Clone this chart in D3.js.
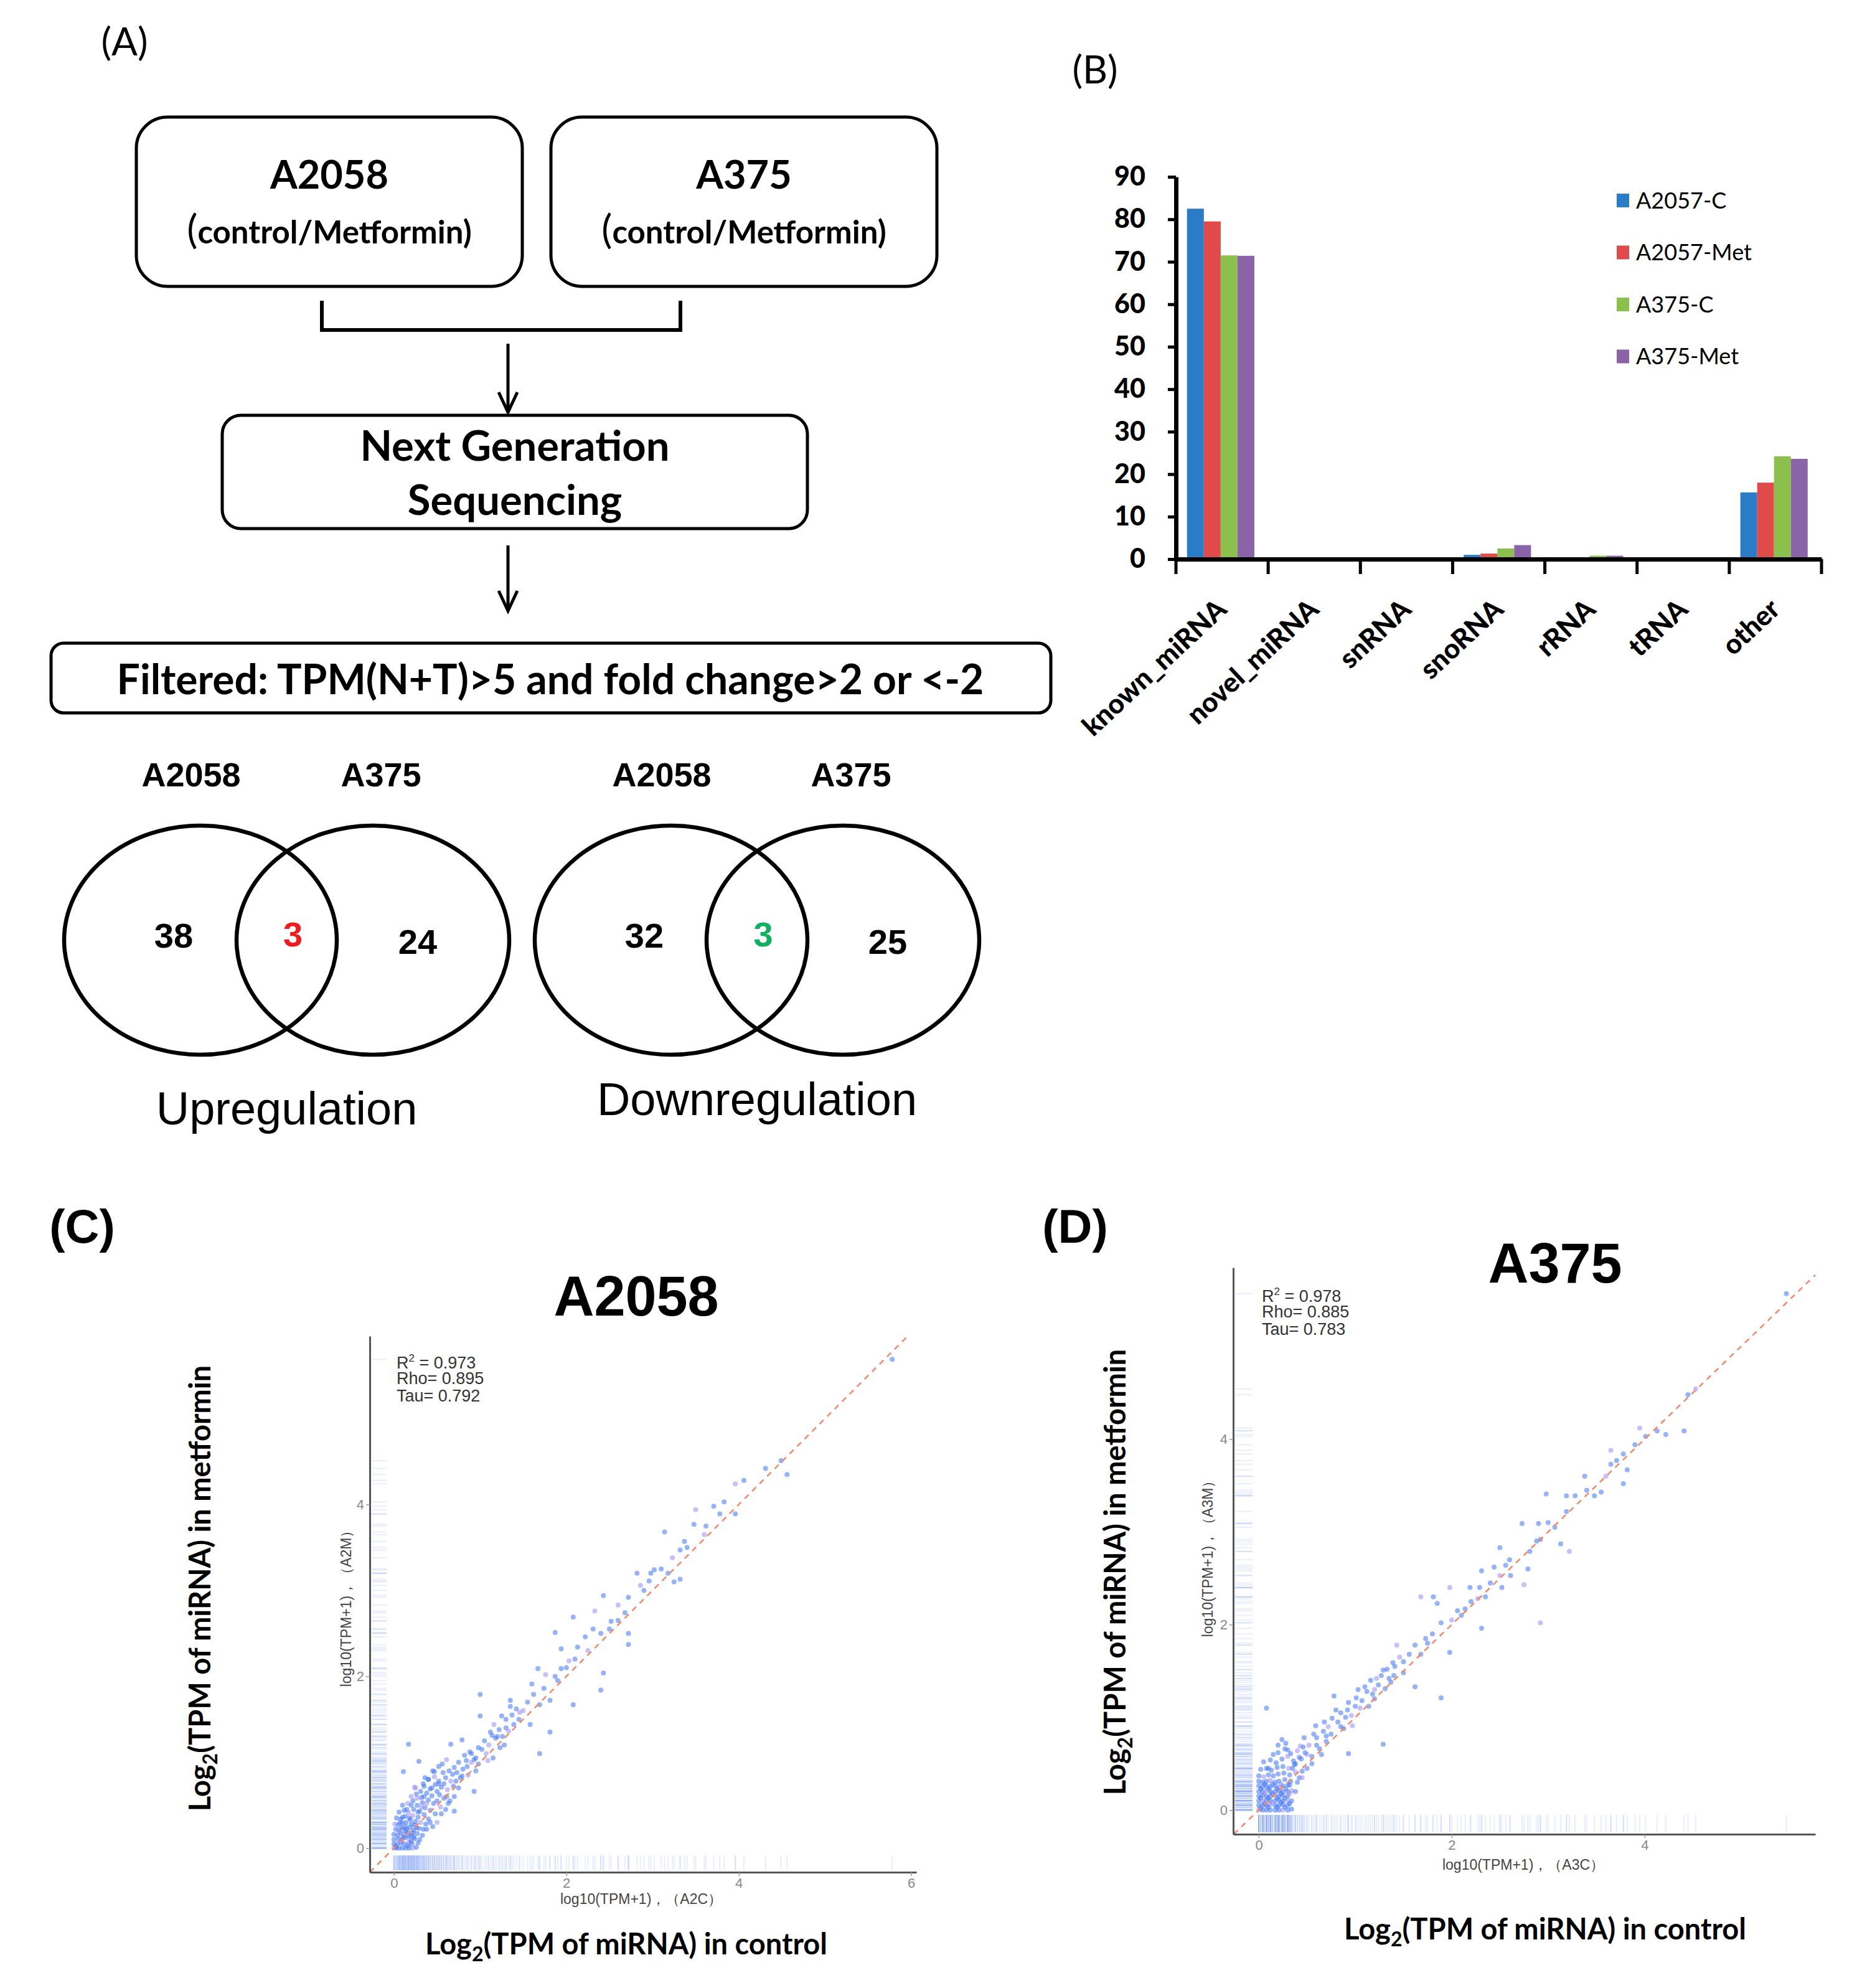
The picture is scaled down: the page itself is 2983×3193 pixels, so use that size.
<!DOCTYPE html>
<html>
<head>
<meta charset="utf-8">
<script src="https://cdn.jsdelivr.net/npm/d3@7"></script>
<style>
html,body{margin:0;padding:0;background:#fff;}
svg{display:block;}
</style>
</head>
<body>
<div id="chart"></div>
<script>
// ---------------- DATA ----------------
// Panel B
const categories = ["known_miRNA","novel_miRNA","snRNA","snoRNA","rRNA","tRNA","other"];
const seriesNames = ["A2057-C","A2057-Met","A375-C","A375-Met"];
const seriesColors = ["#2b7cc6","#e04a4a","#8cc04c","#8b64a8"];
const a2057C   = [82.5, 0, 0, 1.0, 0.3, 0.05, 15.7];
const a2057Met = [79.5, 0, 0, 1.3, 0.35, 0.05, 18.0];
const a375C    = [71.5, 0, 0, 2.5, 0.8, 0.05, 24.2];
const a375Met  = [71.4, 0, 0, 3.3, 0.8, 0.05, 23.6];
const barTicks = [0,10,20,30,40,50,60,70,80,90];

// Panel A venn
const vennSets = ["A2058","A375"];
const upCounts = [38, 3, 24];
const downCounts = [32, 3, 25];

// Panel C / D stats
const statsC = ["0.973","0.895","0.792"];
const statsD = ["0.978","0.885","0.783"];
const scatterTicksC = [0,2,4,6];
const scatterTicksD = [0,2,4];

// Panel C points [log10(TPM+1) control, log10(TPM+1) metformin]
const pointsC = [
[0,0],[0.03,0],[0.06,0],[0.1,0],[0.14,0],[0.18,0],[0.22,0],[0.26,0.01],
[0,0.05],[0.04,0.05],[0.08,0.06],[0.12,0.05],[0.17,0.06],[0.21,0.05],
[0,0.1],[0.05,0.11],[0.09,0.1],[0.13,0.12],[0.18,0.1],[0.24,0.11],[0.3,0.1],
[0,0.16],[0.04,0.15],[0.08,0.17],[0.12,0.16],[0.16,0.18],[0.2,0.15],[0.27,0.17],
[0.02,0.22],[0.06,0.21],[0.11,0.23],[0.15,0.22],[0.19,0.24],[0.23,0.21],[0.29,0.23],[0.34,0.22],
[0.01,0.28],[0.05,0.27],[0.1,0.29],[0.14,0.3],[0.2,0.28],[0.25,0.31],[0.31,0.3],[0.37,0.28],
[0.03,0.35],[0.08,0.34],[0.13,0.37],[0.18,0.35],[0.22,0.38],[0.28,0.36],[0.35,0.39],[0.4,0.34],
[0.06,0.42],[0.12,0.44],[0.17,0.41],[0.23,0.45],[0.3,0.43],[0.36,0.47],[0.42,0.44],
[0.1,0.5],[0.16,0.52],[0.22,0.55],[0.27,0.5],[0.33,0.53],[0.4,0.56],[0.46,0.52],
[0.2,0.6],[0.26,0.63],[0.32,0.59],[0.38,0.64],[0.44,0.61],[0.5,0.66],
[0.25,0.7],[0.35,0.72],[0.42,0.69],[0.48,0.74],[0.55,0.71],
[0.4,0.8],[0.47,0.83],[0.52,0.78],[0.6,0.82],[0.57,0.88],[0.64,0.9],[0.68,0.86],
[0.5,0.3],[0.45,0.25],[0.55,0.4],[0.6,0.45],[0.65,0.55],[0.7,0.6],[0.62,0.68],[0.75,0.7],[0.72,0.78],
[0.11,0.89],[0.17,1.21],[0.29,1.01],[0.24,0.71],[0.34,0.75],[0.4,0.8],[0.52,0.75],[0.47,0.89],
[0.56,0.98],[0.61,1.03],[0.66,1.21],[0.7,0.94],[0.79,1.26],[0.93,1.03],[0.98,1.17],[1.07,1.1],
[0.63,0.52],[0.7,0.43],[0.93,0.66],[0.79,0.84],[0.85,0.95],[0.9,1.0],[0.82,1.08],[0.88,1.12],
[1.0,1.54],[1.0,1.79],[1.14,1.31],[1.16,1.44],[1.23,1.17],[1.25,1.54],[1.35,1.72],[1.35,1.65],
[1.39,1.44],[1.46,1.58],[1.58,1.44],[1.69,1.1],[1.81,1.35],[1.2,1.3],[1.3,1.4],[1.1,1.2],
[1.6,1.91],[1.62,1.79],[1.67,2.09],[1.69,1.67],[1.74,1.86],[1.76,2.02],[1.81,1.72],[1.87,2.0],
[1.87,2.51],[1.94,2.09],[1.94,2.32],[2.03,2.18],[2.08,1.67],[2.08,2.69],[2.13,2.34],[2.22,2.46],
[2.31,2.55],[2.33,2.76],[2.4,2.5],[2.4,1.84],[2.43,2.04],[2.43,2.94],[2.52,2.64],[2.6,2.83],
[2.68,2.74],[2.72,2.92],[2.72,2.5],[2.72,2.37],[2.82,3.2],[2.86,3.06],[2.96,3.11],[2.98,3.2],
[3.02,3.24],[3.14,3.68],[3.18,3.2],[3.23,3.38],[3.25,3.1],[3.32,3.13],[3.32,3.47],[3.37,3.57],
[3.48,3.77],[3.5,3.94],[3.62,3.75],[3.71,3.98],[3.78,3.89],[3.83,4.03],[3.96,3.89],[3.96,4.24],
[4.06,4.28],[4.31,4.42],[4.49,4.51],[4.56,4.35],[5.78,5.69],
[1.5,1.6],[1.55,1.7],[1.45,1.5],[1.9,1.95],[2.0,2.1],[2.1,2.2],[2.25,2.3],[2.5,2.55],[2.6,2.65],
[2.9,3.0],[3.1,3.25],[3.4,3.5],[3.6,3.65],[1.15,1.05],[1.28,1.2],[0.95,0.9],[0.75,1.0],
[0.35,0.6],[0.38,0.52],[0.44,0.7],[0.5,0.55],[0.53,0.62],[0.58,0.75],[0.61,0.6],[0.66,0.78],
[0.69,0.72],[0.73,0.88],[0.77,0.82],[0.8,0.92],[0.84,1.02],[0.86,0.85],[0.9,1.1],[0.95,1.05],
[0.98,0.98],[1.02,1.15],[1.05,1.25],[1.09,1.02],[1.12,1.35],[1.18,1.28],[1.22,1.38],[1.26,1.3],
[1.3,1.5],[1.33,1.36],[1.37,1.55],[1.42,1.62],[0.15,0.45],[0.2,0.5],[0.28,0.42],[0.32,0.48],
[0.07,0.3],[0.1,0.36],[0.14,0.25],[0.19,0.33],[0.24,0.27],[0.27,0.58],[0.31,0.66],[0.36,0.82],
[0.45,0.9],[0.52,0.95],[0.58,0.58],[0.54,0.48],[0.48,0.4],[0.42,0.3],[0.38,0.22],[0.33,0.15],
[0.02,0.02],[0.07,0.08],[0.11,0.13],[0.16,0.03],[0.2,0.08],[0.23,0.13],[0.28,0.06],[0.06,0.19],
[0.09,0.24],[0.13,0.2],[0.17,0.14],[0.22,0.18],[0.26,0.24]
];

// Panel D points
const pointsD = [
[0,0],[0.04,0],[0.08,0],[0.12,0],[0.17,0],[0.21,0],[0.25,0],[0.3,0],[0.34,0.01],
[0,0.05],[0.04,0.05],[0.08,0.05],[0.12,0.06],[0.17,0.05],[0.21,0.05],[0.25,0.06],[0.3,0.05],
[0,0.1],[0.04,0.1],[0.08,0.11],[0.12,0.1],[0.17,0.1],[0.21,0.11],[0.25,0.1],[0.3,0.1],[0.34,0.1],
[0,0.15],[0.04,0.16],[0.08,0.15],[0.12,0.15],[0.17,0.16],[0.21,0.15],[0.25,0.16],[0.3,0.15],
[0,0.2],[0.04,0.2],[0.08,0.21],[0.12,0.2],[0.17,0.2],[0.21,0.21],[0.25,0.2],[0.3,0.2],[0.34,0.21],
[0,0.26],[0.04,0.25],[0.08,0.26],[0.12,0.25],[0.17,0.26],[0.21,0.25],[0.25,0.26],[0.3,0.27],
[0,0.31],[0.04,0.3],[0.08,0.31],[0.12,0.32],[0.17,0.3],[0.21,0.31],[0.27,0.33],[0.33,0.31],
[0,0.37],[0.05,0.36],[0.1,0.38],[0.15,0.37],[0.2,0.39],[0.26,0.4],[0.32,0.38],[0.38,0.41],
[0.02,0.44],[0.08,0.45],[0.13,0.43],[0.19,0.46],[0.25,0.47],[0.31,0.45],[0.37,0.49],
[0.05,0.52],[0.12,0.54],[0.18,0.51],[0.24,0.55],[0.3,0.58],[0.36,0.53],[0.42,0.57],
[0.2,0.62],[0.27,0.66],[0.33,0.61],[0.4,0.64],[0.46,0.68],[0.35,0.45],[0.42,0.35],[0.45,0.42],
[0.3,0.65],[0.43,0.69],[0.47,0.78],[0.57,0.82],[0.59,0.91],[0.24,0.76],[0.08,1.1],[0.5,0.6],
[0.68,0.95],[0.76,0.99],[0.78,1.23],[0.8,1.08],[0.93,1.16],[0.97,0.91],[0.93,0.61],[1.01,1.21],
[1.1,1.33],[1.14,1.12],[1.18,1.25],[1.22,1.42],[1.29,1.51],[1.29,0.71],[1.31,1.31],[1.35,1.42],
[1.39,1.59],[1.43,1.78],[1.5,1.48],[1.56,1.68],[1.62,1.78],[1.62,1.33],[1.68,1.68],[1.68,2.3],
[1.73,1.85],[1.81,2.3],[1.85,2.23],[1.89,2.02],[1.89,1.21],[1.98,2.4],[1.98,1.7],[2.06,2.15],
[2.1,2.1],[2.14,2.17],[2.19,2.4],[2.27,2.28],[2.29,2.4],[2.31,2.58],[2.31,1.96],[2.35,2.3],
[2.44,2.62],[2.5,2.53],[2.5,2.83],[2.52,2.4],[2.56,2.64],[2.61,2.53],[2.73,3.09],[2.75,2.43],
[2.79,2.6],[2.81,2.79],[2.88,2.9],[2.9,3.09],[2.92,2.92],[2.92,2.02],[2.98,3.41],[3.07,3.05],
[3.13,2.87],[3.19,3.22],[3.19,3.39],[3.22,2.79],[3.28,3.39],[3.38,3.6],[3.48,3.39],[3.55,3.43],
[3.65,3.73],[3.65,3.88],[3.71,3.77],[3.78,3.52],[3.78,3.84],[3.82,3.67],[3.9,3.94],[3.95,4.12],
[4.01,4.03],[4.13,4.09],[4.22,4.05],[4.41,4.09],[4.45,4.48],[4.53,4.54],[5.47,5.57],
[0.6,0.7],[0.7,0.8],[0.85,0.9],[0.9,1.0],[1.05,1.1],[1.2,1.2],[1.4,1.45],[1.5,1.6],[1.75,1.8],
[1.8,1.9],[2.0,2.05],[2.2,2.25],[2.4,2.45],[2.6,2.7],[3.0,3.1],[3.4,3.45],[3.6,3.6],[0.55,0.5],[0.65,0.6],
[0.38,0.5],[0.44,0.55],[0.48,0.62],[0.52,0.7],[0.55,0.58],[0.6,0.78],[0.63,0.66],[0.67,0.85],
[0.7,0.74],[0.72,0.9],[0.75,0.82],[0.82,0.95],[0.85,1.05],[0.88,0.88],[0.92,1.08],[0.96,1.02],
[1.0,1.12],[1.03,1.3],[1.07,1.18],[1.12,1.28],[1.16,1.4],[1.2,1.3],[1.24,1.35],[1.27,1.45],
[1.33,1.52],[1.37,1.38],[1.41,1.55],[1.46,1.65],[0.2,0.7],[0.15,0.6],[0.28,0.72],[0.1,0.45],
[0.4,0.3],[0.45,0.35],[0.5,0.45],[0.38,0.2],[0.02,0.02],[0.06,0.07],[0.1,0.03],[0.14,0.08],
[0.19,0.03],[0.23,0.08],[0.27,0.03],[0.32,0.07],[0.02,0.13],[0.06,0.18],[0.1,0.13],[0.14,0.18],
[0.19,0.13],[0.23,0.18],[0.27,0.13],[0.32,0.18],[0.02,0.23],[0.06,0.28],[0.1,0.23],[0.14,0.28],
[0.19,0.23],[0.23,0.28],[0.28,0.23],[0.32,0.27]
];

// ---------------- SVG ----------------
const W = 2983, H = 3193;
const svg = d3.select("#chart").append("svg").attr("width", W).attr("height", H);
svg.append("rect").attr("width", W).attr("height", H).attr("fill", "#fff");

const CAL = "Lato, 'Open Sans', sans-serif";
const ARI = "'Liberation Sans', Arial, sans-serif";

// ---------------- PANEL A ----------------
const A = svg.append("g");
A.append("text").attr("x", 200).attr("y", 67).attr("dy", "0.35em").attr("text-anchor", "middle")
  .attr("font-family", CAL).attr("font-size", 62).text("(A)");

function box(x, y, w, h, r) {
  A.append("rect").attr("x", x).attr("y", y).attr("width", w).attr("height", h)
    .attr("rx", r).attr("ry", r).attr("fill", "none").attr("stroke", "#000").attr("stroke-width", 5);
}
box(219, 188, 620, 272, 50);
box(885, 188, 620, 272, 50);
[[vennSets[0], 529], [vennSets[1], 1195]].forEach(([t, cx]) => {
  A.append("text").attr("x", cx).attr("y", 281).attr("dy", "0.35em").attr("text-anchor", "middle")
    .attr("font-family", CAL).attr("font-weight", "bold").attr("font-size", 63).text(t);
  const sub = A.append("text").attr("x", cx).attr("y", 373).attr("dy", "0.35em").attr("text-anchor", "middle")
    .attr("font-family", CAL).attr("font-weight", "bold").attr("font-size", 51);
  sub.append("tspan").attr("font-size", 64).attr("font-weight", "normal").text("(");
  sub.append("tspan").text("control/Metformin)");
});
// bracket
A.append("path").attr("d", "M517,483 L517,530 L1093,530 L1093,483").attr("fill", "none")
  .attr("stroke", "#000").attr("stroke-width", 6);
function arrow(x, y1, y2) {
  A.append("line").attr("x1", x).attr("x2", x).attr("y1", y1).attr("y2", y2 - 3)
    .attr("stroke", "#000").attr("stroke-width", 5);
  A.append("path").attr("d", `M${x-15},${y2-32} L${x},${y2} L${x+15},${y2-32}`).attr("fill", "none")
    .attr("stroke", "#000").attr("stroke-width", 5);
}
arrow(816, 552, 662);
arrow(816, 876, 981);
box(357, 667, 940, 182, 30);
A.append("text").attr("x", 827).attr("y", 717).attr("dy", "0.35em").attr("text-anchor", "middle")
  .attr("font-family", CAL).attr("font-weight", "bold").attr("font-size", 67).text("Next Generation");
A.append("text").attr("x", 827).attr("y", 804).attr("dy", "0.35em").attr("text-anchor", "middle")
  .attr("font-family", CAL).attr("font-weight", "bold").attr("font-size", 67).text("Sequencing");
box(82, 1033, 1606, 112, 20);
A.append("text").attr("x", 884).attr("y", 1092).attr("dy", "0.35em").attr("text-anchor", "middle")
  .attr("font-family", CAL).attr("font-weight", "bold").attr("font-size", 66)
  .text("Filtered: TPM(N+T)>5 and fold change>2 or <-2");

// Venn diagrams
function venn(cx1, cx2, counts, midColor, title, titleY) {
  const cy = 1510;
  A.append("text").attr("x", cx1 - 15).attr("y", 1244).attr("dy", "0.35em").attr("text-anchor", "middle")
    .attr("font-family", ARI).attr("font-weight", "bold").attr("font-size", 54).text(vennSets[0]);
  A.append("text").attr("x", cx2 + 13).attr("y", 1244).attr("dy", "0.35em").attr("text-anchor", "middle")
    .attr("font-family", ARI).attr("font-weight", "bold").attr("font-size", 54).text(vennSets[1]);
  [cx1, cx2].forEach(cx => A.append("ellipse").attr("cx", cx).attr("cy", cy).attr("rx", 219).attr("ry", 184)
    .attr("fill", "none").attr("stroke", "#000").attr("stroke-width", 6.5));
  A.append("text").attr("x", cx1 - 43).attr("y", 1502).attr("dy", "0.35em").attr("text-anchor", "middle")
    .attr("font-family", ARI).attr("font-weight", "bold").attr("font-size", 56).text(counts[0]);
  A.append("text").attr("x", (cx1 + cx2) / 2 + 10).attr("y", 1500).attr("dy", "0.35em").attr("text-anchor", "middle")
    .attr("font-family", ARI).attr("font-weight", "bold").attr("font-size", 56).attr("fill", midColor).text(counts[1]);
  A.append("text").attr("x", cx2 + 72).attr("y", 1512).attr("dy", "0.35em").attr("text-anchor", "middle")
    .attr("font-family", ARI).attr("font-weight", "bold").attr("font-size", 56).text(counts[2]);
  A.append("text").attr("x", (cx1 + cx2) / 2).attr("y", titleY).attr("dy", "0.35em").attr("text-anchor", "middle")
    .attr("font-family", ARI).attr("font-size", 74).text(title);
}
venn(322, 599, upCounts, "#f01c1c", "Upregulation", 1780);
venn(1078, 1354, downCounts, "#10b060", "Downregulation", 1765);

// ---------------- PANEL B ----------------
const B = svg.append("g");
B.append("text").attr("x", 1759).attr("y", 112).attr("dy", "0.35em").attr("text-anchor", "middle")
  .attr("font-family", CAL).attr("font-size", 62).text("(B)");
const bx = d3.scaleBand().domain(categories).range([1889, 2926]).padding(0);
const bw = bx.bandwidth();
const bInner = d3.scaleBand().domain(seriesNames).range([0.12 * bw, 0.85 * bw]).padding(0);
const by = d3.scaleLinear().domain([0, 90]).range([898, 284]);
const seriesVals = [a2057C, a2057Met, a375C, a375Met];
seriesNames.forEach((s, si) => {
  B.append("g").selectAll("rect").data(categories).join("rect")
    .attr("x", c => bx(c) + bInner(s))
    .attr("width", bInner.bandwidth())
    .attr("y", (c, i) => by(seriesVals[si][i]))
    .attr("height", (c, i) => by(0) - by(seriesVals[si][i]))
    .attr("fill", seriesColors[si]);
});
// y axis
const yAx = B.append("g").attr("transform", "translate(1889,0)")
  .call(d3.axisLeft(by).tickValues(barTicks).tickSize(13).tickSizeOuter(0));
yAx.select(".domain").attr("stroke-width", 7).attr("stroke", "#000");
yAx.selectAll(".tick line").attr("stroke-width", 5).attr("stroke", "#000");
yAx.selectAll(".tick text").attr("font-family", CAL).attr("font-weight", "900").attr("font-size", 43)
  .attr("fill", "#000").attr("x", -49);
// x axis
const xAx = B.append("g").attr("transform", "translate(0,898)")
  .call(d3.axisBottom(bx).tickSize(0).tickFormat(""));
xAx.select(".domain").attr("stroke-width", 7).attr("stroke", "#000");
const bTicks = categories.map(c => bx(c)).concat([bx.range()[1]]);
B.append("g").selectAll("line").data(bTicks).join("line")
  .attr("x1", d => d).attr("x2", d => d).attr("y1", 898).attr("y2", 922)
  .attr("stroke", "#000").attr("stroke-width", 5);
B.append("g").selectAll("text").data(categories).join("text")
  .attr("transform", c => `translate(${bx(c) + bw / 2 + 10},${982}) rotate(-43)`)
  .attr("text-anchor", "end").attr("font-family", CAL).attr("font-weight", "900").attr("font-size", 44)
  .text(c => c);
// legend
const leg = B.append("g");
seriesNames.forEach((s, i) => {
  const ly = 322 + i * 83.5;
  leg.append("rect").attr("x", 2597).attr("y", ly - 11).attr("width", 20).attr("height", 22).attr("fill", seriesColors[i]);
  leg.append("text").attr("x", 2628).attr("y", ly).attr("dy", "0.35em").attr("font-family", CAL)
    .attr("font-size", 36).text(s);
});

// ---------------- PANELS C & D ----------------
function scatter(cfg) {
  const g = svg.append("g");
  const x = d3.scaleLinear().domain(cfg.xd).range(cfg.xr);
  const y = d3.scaleLinear().domain(cfg.yd).range(cfg.yr);
  g.append("text").attr("x", cfg.letterX).attr("y", 1969).attr("dy", "0.35em").attr("text-anchor", "middle")
    .attr("font-family", ARI).attr("font-weight", "bold").attr("font-size", 76).text(cfg.letter);
  g.append("text").attr("x", cfg.titleX).attr("y", cfg.titleY).attr("dy", "0.35em").attr("text-anchor", "middle")
    .attr("font-family", ARI).attr("font-weight", "bold").attr("font-size", 90).text(cfg.title);
  // rugs
  g.append("g").selectAll("line").data(cfg.points).join("line")
    .attr("x1", d => x(d[0])).attr("x2", d => x(d[0]))
    .attr("y1", cfg.yr[0] - 3).attr("y2", cfg.yr[0] - 3 - cfg.rug)
    .attr("stroke", "#5a88f0").attr("stroke-opacity", 0.14).attr("stroke-width", 2);
  g.append("g").selectAll("line").data(cfg.points).join("line")
    .attr("y1", d => y(d[1])).attr("y2", d => y(d[1]))
    .attr("x1", cfg.xr[0] + 3).attr("x2", cfg.xr[0] + 3 + cfg.rug)
    .attr("stroke", "#5a88f0").attr("stroke-opacity", 0.14).attr("stroke-width", 2);
  // points
  g.append("g").selectAll("circle").data(cfg.points).join("circle")
    .attr("cx", d => x(d[0])).attr("cy", d => y(d[1])).attr("r", 4)
    .attr("fill", (d, i) => i % 6 === 0 ? "#9a8cf2" : "#3f74f0").attr("fill-opacity", 0.55);
  // diagonal
  const lo = Math.max(cfg.xd[0], cfg.yd[0]), hi = Math.min(cfg.xd[1], cfg.yd[1]);
  g.append("line").attr("x1", x(lo)).attr("y1", y(lo)).attr("x2", x(hi)).attr("y2", y(hi))
    .attr("stroke", "#f2876a").attr("stroke-width", 2.5).attr("stroke-dasharray", "9,8");
  // axes
  const ax = g.append("g").attr("transform", `translate(0,${cfg.yr[0]})`)
    .call(d3.axisBottom(x).tickValues(cfg.xticks).tickSize(6).tickSizeOuter(0).tickFormat(d3.format("d")));
  const ay = g.append("g").attr("transform", `translate(${cfg.xr[0]},0)`)
    .call(d3.axisLeft(y).tickValues(cfg.yticks).tickSize(6).tickSizeOuter(0).tickFormat(d3.format("d")));
  [ax, ay].forEach(a => {
    a.select(".domain").attr("stroke", "#555").attr("stroke-width", 3);
    a.selectAll(".tick line").attr("stroke", "#999").attr("stroke-width", 1.5);
    a.selectAll(".tick text").attr("fill", "#888").attr("font-family", ARI).attr("font-size", 22);
  });
  g.append("text").attr("x", cfg.xtX).attr("y", cfg.xtY).attr("dy", "0.35em").attr("text-anchor", "middle")
    .attr("font-family", ARI).attr("font-size", 23).attr("fill", "#444").text(cfg.xTitle);
  g.append("text").attr("transform", `translate(${cfg.ytX},${cfg.ytY}) rotate(-90)`).attr("dy", "0.35em")
    .attr("text-anchor", "middle").attr("font-family", ARI).attr("font-size", 23).attr("fill", "#444").text(cfg.yTitle);
  // stats
  const st = g.append("text").attr("font-family", ARI).attr("font-size", 27).attr("fill", "#333");
  const t1 = st.append("tspan").attr("x", cfg.statX).attr("y", cfg.statY);
  t1.append("tspan").text("R");
  t1.append("tspan").attr("font-size", 17).attr("dy", -11).text("2");
  t1.append("tspan").attr("dy", 11).text(" = " + cfg.stats[0]);
  st.append("tspan").attr("x", cfg.statX).attr("y", cfg.statY + 25).text("Rho= " + cfg.stats[1]);
  st.append("tspan").attr("x", cfg.statX).attr("y", cfg.statY + 53).text("Tau= " + cfg.stats[2]);
  // big titles
  const bt = g.append("text").attr("x", cfg.bxX).attr("y", cfg.bxY).attr("dy", "0.35em").attr("text-anchor", "middle")
    .attr("font-family", CAL).attr("font-weight", "bold").attr("font-size", 47);
  bt.append("tspan").text("Log");
  bt.append("tspan").attr("font-size", 32).attr("dy", 11).text("2");
  bt.append("tspan").attr("dy", -11).text("(TPM of miRNA) in control");
  const bty = g.append("text").attr("transform", `translate(${cfg.byX},${cfg.byY}) rotate(-90)`).attr("dy", "0.35em")
    .attr("text-anchor", "middle").attr("font-family", CAL).attr("font-weight", "bold").attr("font-size", 47);
  bty.append("tspan").text("Log");
  bty.append("tspan").attr("font-size", 32).attr("dy", 11).text("2");
  bty.append("tspan").attr("dy", -11).text("(TPM of miRNA) in metformin");
}

scatter({
  letter: "(C)", letterX: 132, title: "A2058", titleX: 1022, titleY: 2081,
  points: pointsC, xd: [-0.28, 6.06], xr: [594, 1472], yd: [-0.28, 5.96], yr: [3007, 2146],
  xticks: scatterTicksC, yticks: [0, 2, 4], rug: 24,
  xTitle: "log10(TPM+1)，（A2C）", xtX: 1030, xtY: 3050,
  yTitle: "log10(TPM+1)，（A2M）", ytX: 556, ytY: 2578,
  stats: statsC, statX: 637, statY: 2198,
  bxX: 1006, bxY: 3123, byX: 322, byY: 2551
});
scatter({
  letter: "(D)", letterX: 1727, title: "A375", titleX: 2498, titleY: 2028,
  points: pointsD, xd: [-0.265, 5.77], xr: [1981, 2916], yd: [-0.26, 5.85], yr: [2946, 2036],
  xticks: scatterTicksD, yticks: [0, 2, 4], rug: 28,
  xTitle: "log10(TPM+1)，（A3C）", xtX: 2447, xtY: 2995,
  yTitle: "log10(TPM+1)，（A3M）", ytX: 1940, ytY: 2498,
  stats: statsD, statX: 2027, statY: 2091,
  bxX: 2482, bxY: 3099, byX: 1792, byY: 2525
});
</script>
</body>
</html>
